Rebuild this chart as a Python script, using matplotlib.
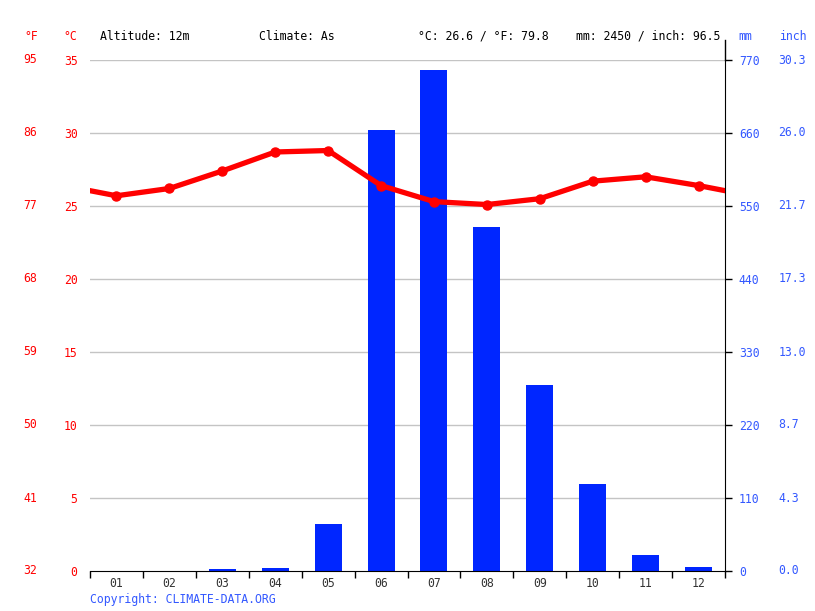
import matplotlib
matplotlib.use("Agg")
import matplotlib.pyplot as plt
import numpy as np

# data
months = ["01", "02", "03", "04", "05", "06", "07", "08", "09", "10", "11", "12"]
temp_c = [25.7, 26.2, 27.4, 28.7, 28.8, 26.4, 25.3, 25.1, 25.5, 26.7, 27.0, 26.4]
rain_mm = [0, 0, 3, 5, 71, 664, 755, 518, 280, 131, 24, 6]
c_ticks = [0, 5, 10, 15, 20, 25, 30, 35]
mm_ticks = [0, 110, 220, 330, 440, 550, 660, 770]

RED = "#ff0000"
BLUE = "#0026ff"
LBLUE = "#3358ff"
MONO = "DejaVu Sans Mono"
FS = 8.3

W, H = 815, 611
fig = plt.figure(figsize=(W / 100, H / 100), dpi=100)
rect = [90 / W, 40 / H, 635 / W, 511 / H]

ax_mm = fig.add_axes(rect)
ax_t = ax_mm.twinx()  # temperature on top of the bars
x = np.arange(1, 13)

# rain bars (mm, right axis)
ax_mm.bar(x, rain_mm, width=0.51, color=BLUE, zorder=2)
ax_mm.set_xlim(0.5, 12.5)
ax_mm.set_ylim(0, 770)
ax_mm.yaxis.tick_right()
ax_mm.set_yticks(mm_ticks)
ax_mm.set_yticklabels([str(v) for v in mm_ticks])
ax_mm.tick_params(axis="y", direction="out", length=5, width=1, colors="black",
                  labelcolor=LBLUE, labelsize=FS, pad=5, left=False, labelleft=False,
                  right=True, labelright=True)
for lbl in ax_mm.get_yticklabels():
    lbl.set_fontfamily(MONO)
for v in mm_ticks:
    ax_mm.text(1.084, v, f"{v / 25.4:.1f}", transform=ax_mm.get_yaxis_transform(),
               color=LBLUE, fontsize=FS, family=MONO, va="center", ha="left")
for c in c_ticks[1:]:
    ax_mm.axhline(c * 22, color="#c4c4c4", lw=1, zorder=1)

ax_mm.set_xticks(np.arange(0.5, 13, 1))
ax_mm.set_xticklabels([])
ax_mm.set_xticks(x, minor=True)
ax_mm.set_xticklabels(months, minor=True)
ax_mm.tick_params(axis="x", which="major", direction="out", length=5, width=1, color="black")
ax_mm.tick_params(axis="x", which="minor", length=0, pad=4, labelsize=FS, labelcolor="#333333")
for lbl in ax_mm.get_xticklabels(minor=True):
    lbl.set_fontfamily(MONO)
for s in ["left", "top"]:
    ax_mm.spines[s].set_visible(False)
ax_mm.plot([1, 1], [1, 1.04], transform=ax_mm.transAxes, color="black", lw=1, clip_on=False)

# temperature line (°C, left axis)
ax_t.set_ylim(0, 35)
ax_t.set_xlim(0.5, 12.5)
edge = (temp_c[0] + temp_c[-1]) / 2
tx = np.concatenate([[0.5], x, [12.5]])
ty = np.concatenate([[edge], temp_c, [edge]])
ax_t.plot(tx, ty, color=RED, lw=3.8, solid_joinstyle="round", zorder=3)
ax_t.plot(x, temp_c, "o", color=RED, ms=6.5, zorder=4)
ax_t.yaxis.tick_left()
ax_t.set_yticks(c_ticks)
ax_t.set_yticklabels([str(v) for v in c_ticks])
ax_t.tick_params(axis="y", length=0, labelcolor=RED, labelsize=FS, pad=9,
                 right=False, labelright=False, left=True, labelleft=True)
for lbl in ax_t.get_yticklabels():
    lbl.set_fontfamily(MONO)
for c in c_ticks:
    ax_t.text(-0.083, c, f"{c * 9 / 5 + 32:.0f}", transform=ax_t.get_yaxis_transform(),
              color=RED, fontsize=FS, family=MONO, va="center", ha="right")
for s in ax_t.spines.values():
    s.set_visible(False)

# header texts
yh = 1 - 36 / H
fig.text(24 / W, yh, "°F", color=RED, fontsize=FS, family=MONO, va="center")
fig.text(63 / W, yh, "°C", color=RED, fontsize=FS, family=MONO, va="center")
fig.text(100 / W, yh, "Altitude: 12m", fontsize=FS, family=MONO, va="center")
fig.text(259 / W, yh, "Climate: As", fontsize=FS, family=MONO, va="center")
fig.text(418 / W, yh, "°C: 26.6 / °F: 79.8", fontsize=FS, family=MONO, va="center")
fig.text(576 / W, yh, "mm: 2450 / inch: 96.5", fontsize=FS, family=MONO, va="center")
fig.text(738 / W, yh, "mm", color=LBLUE, fontsize=FS, family=MONO, va="center")
fig.text(779 / W, yh, "inch", color=LBLUE, fontsize=FS, family=MONO, va="center")
fig.text(90 / W, 1 - 599 / H, "Copyright: CLIMATE-DATA.ORG", color=LBLUE,
         fontsize=FS, family=MONO, va="center")

fig.savefig("out.png", dpi=100)
